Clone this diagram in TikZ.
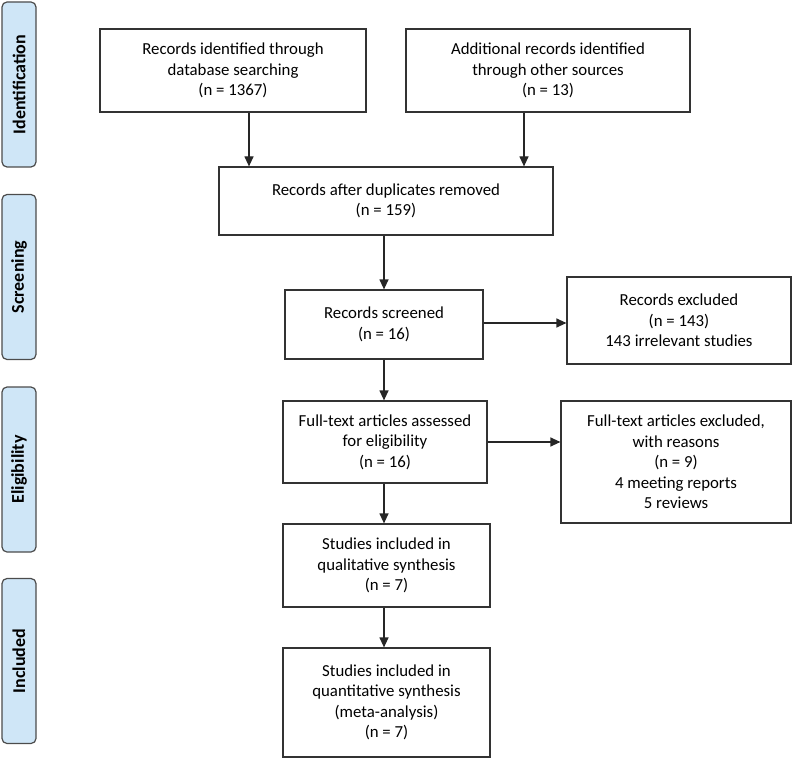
\documentclass[tikz,border=0pt]{standalone}
\usepackage{fontspec}
\setmainfont{Carlito}
\usetikzlibrary{arrows.meta}
\definecolor{stagefill}{RGB}{207,230,247}

\begin{document}
\begin{tikzpicture}[x=1pt, y=-1pt,
		box/.style = {draw=black!80, line width=1.2pt, align=center, font=\fontsize{16.8}{20.5}\selectfont, inner sep=2pt},
		stage/.style = {draw=black!70, line width=1.2pt, fill=stagefill, rounded corners=5pt, rotate=90,
			minimum width=165pt, minimum height=34pt, font=\bfseries\fontsize{18}{20}\selectfont},
		arr/.style = {line width=1.2pt, draw=black!85, -{Triangle[length=10pt,width=9pt]}}]
				\useasboundingbox (0,0) rectangle (800,759);
				% stage labels on the left
				\node[stage] (ident) at (19,84.5) {Identification};
				\node[stage] (screen) at (19,277) {Screening};
				\node[stage] (elig) at (19,469.5) {Eligibility};
				\node[stage] (incl) at (19,661) {Included};
				% boxes
				\node[box, minimum width=266pt, minimum height=83pt] (db) at (233,70.5) {Records identified through\\database searching\\(n = 1367)};
				\node[box, minimum width=284pt, minimum height=83pt] (other) at (548,70.5) {Additional records identified\\through other sources\\(n = 13)};
				\node[box, minimum width=334pt, minimum height=68pt] (dup) at (386,201) {Records after duplicates removed\\(n = 159)};
				\node[box, minimum width=198pt, minimum height=69pt] (scr) at (384,324.5) {Records screened\\(n = 16)};
				\node[box, minimum width=224pt, minimum height=87pt] (excl) at (679,320.5) {Records excluded\\(n = 143)\\143 irrelevant studies};
				\node[box, minimum width=204pt, minimum height=82pt] (full) at (385,442) {Full-text articles assessed\\for eligibility\\(n = 16)};
				\node[box, minimum width=230pt, minimum height=122pt] (fullex) at (676,462) {Full-text articles excluded,\\with reasons\\(n = 9)\\4 meeting reports\\5 reviews};
				\node[box, minimum width=207pt, minimum height=83pt] (qual) at (386.5,565.5) {Studies included in\\qualitative synthesis\\(n = 7)};
				\node[box, minimum width=207pt, minimum height=109pt] (quant) at (386.5,702.5) {Studies included in\\quantitative synthesis\\(meta-analysis)\\(n = 7)};
				% arrows
				\draw[arr] ([xshift=16pt]db.south) -- ([xshift=16pt]db.south |- dup.north);
				\draw[arr] ([xshift=-24pt]other.south) -- ([xshift=-24pt]other.south |- dup.north);
				\draw[arr] (scr.north |- dup.south) -- (scr.north);
				\draw[arr] (scr.south) -- (scr.south |- full.north);
				\draw[arr] (scr.south |- full.south) -- (scr.south |- qual.north);
				\draw[arr] (scr.south |- qual.south) -- (scr.south |- quant.north);
				\draw[arr] ([yshift=1.5pt]scr.east) -- ([yshift=1.5pt]scr.east -| excl.west);
				\draw[arr] (full.east) -- (full.east -| fullex.west);
			\end{tikzpicture}
\end{document}
